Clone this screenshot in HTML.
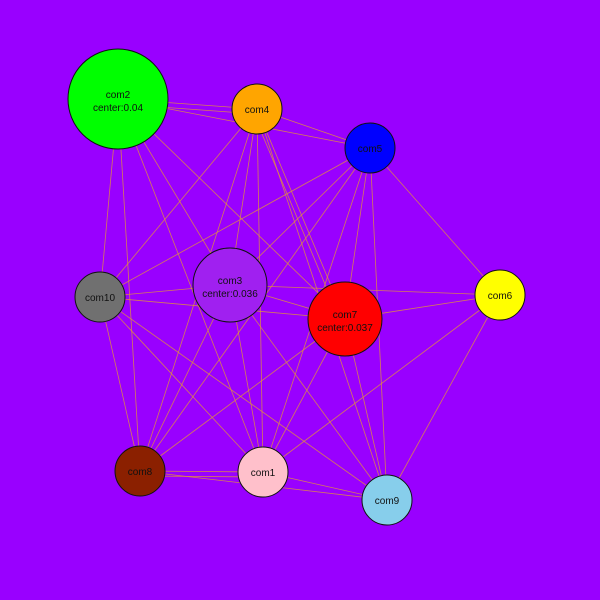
<!DOCTYPE html>
<html><head><meta charset="utf-8"><style>body{margin:0;background:#9900ff}svg{display:block}text{font-family:"Liberation Sans","DejaVu Sans",sans-serif;font-size:10px;text-anchor:middle;fill:#111}</style></head>
<body>
<svg id="g" width="600" height="600">
<rect width="600" height="600" fill="#9900ff"/>
<g id="edges"></g>
<g id="nodes"></g>
</svg>
<script>
const nodeNames=["com1","com2","com3","com4","com5","com6","com7","com8","com9","com10"];
const nodeX=[263,118,230,257,370,500,345,140,387,100];
const nodeY=[472,99,285,109,148,295,319,471,500,297];
const nodeR=[25,50,37,25,25,25,37,25,25,25];
const nodeColor=["#ffc0cb","#00ff00","#a020f0","#ffa500","#0000ff","#ffff00","#ff0000","#8b2000","#87ceeb","#707070"];
const nodeCenter=[null,"0.04","0.036",null,null,null,"0.037",null,null,null];
const edgeFrom=["com2","com2","com2","com2","com2","com2","com2","com2","com4","com4","com4","com4","com4","com4","com4","com4","com5","com5","com5","com5","com5","com5","com5","com3","com3","com3","com3","com3","com3","com7","com7","com7","com7","com7","com6","com6","com10","com10","com10","com8","com8","com8","com1"];
const edgeTo=["com4","com4","com5","com10","com8","com3","com1","com7","com5","com10","com3","com1","com7","com7","com8","com9","com10","com3","com7","com6","com1","com9","com8","com10","com7","com6","com8","com1","com9","com10","com6","com8","com1","com9","com9","com1","com8","com1","com9","com1","com1","com9","com9"];
const NS="http://www.w3.org/2000/svg";
const eg=document.getElementById('edges'),ng=document.getElementById('nodes');
const seen={};
for(let i=0;i<edgeFrom.length;i++){
  const a=nodeNames.indexOf(edgeFrom[i]),b=nodeNames.indexOf(edgeTo[i]);
  const key=edgeFrom[i]+edgeTo[i];const k=seen[key]||0;seen[key]=k+1;
  const dx=nodeX[b]-nodeX[a],dy=nodeY[b]-nodeY[a],L=Math.hypot(dx,dy);
  const off=k*5,ox=-dy/L*off,oy=dx/L*off;
  const l=document.createElementNS(NS,'line');
  l.setAttribute('x1',nodeX[a]+ox);l.setAttribute('y1',nodeY[a]+oy);
  l.setAttribute('x2',nodeX[b]+ox);l.setAttribute('y2',nodeY[b]+oy);
  l.setAttribute('stroke','#e0903c');l.setAttribute('stroke-width','0.8');l.setAttribute('stroke-opacity','0.85');
  
  
  eg.appendChild(l);
}
for(let i=0;i<nodeNames.length;i++){
  const g=document.createElementNS(NS,'g');
  
  
  const c=document.createElementNS(NS,'circle');
  c.setAttribute('cx',nodeX[i]);c.setAttribute('cy',nodeY[i]);c.setAttribute('r',nodeR[i]);
  c.setAttribute('fill',nodeColor[i]);c.setAttribute('stroke','#111');c.setAttribute('stroke-width','1');
  g.appendChild(c);
  const t=document.createElementNS(NS,'text');
  t.setAttribute('x',nodeX[i]);
  
  
  if(nodeCenter[i]){
    t.setAttribute('y',nodeY[i]-1);t.textContent=nodeNames[i];
    const t2=document.createElementNS(NS,'text');
    t2.setAttribute('x',nodeX[i]);t2.setAttribute('y',nodeY[i]+12);t2.textContent='center:'+nodeCenter[i];
    
    
    g.appendChild(t);g.appendChild(t2);
  } else {
    t.setAttribute('y',nodeY[i]+4);t.textContent=nodeNames[i];g.appendChild(t);
  }
  ng.appendChild(g);
}
</script>
</body></html>
